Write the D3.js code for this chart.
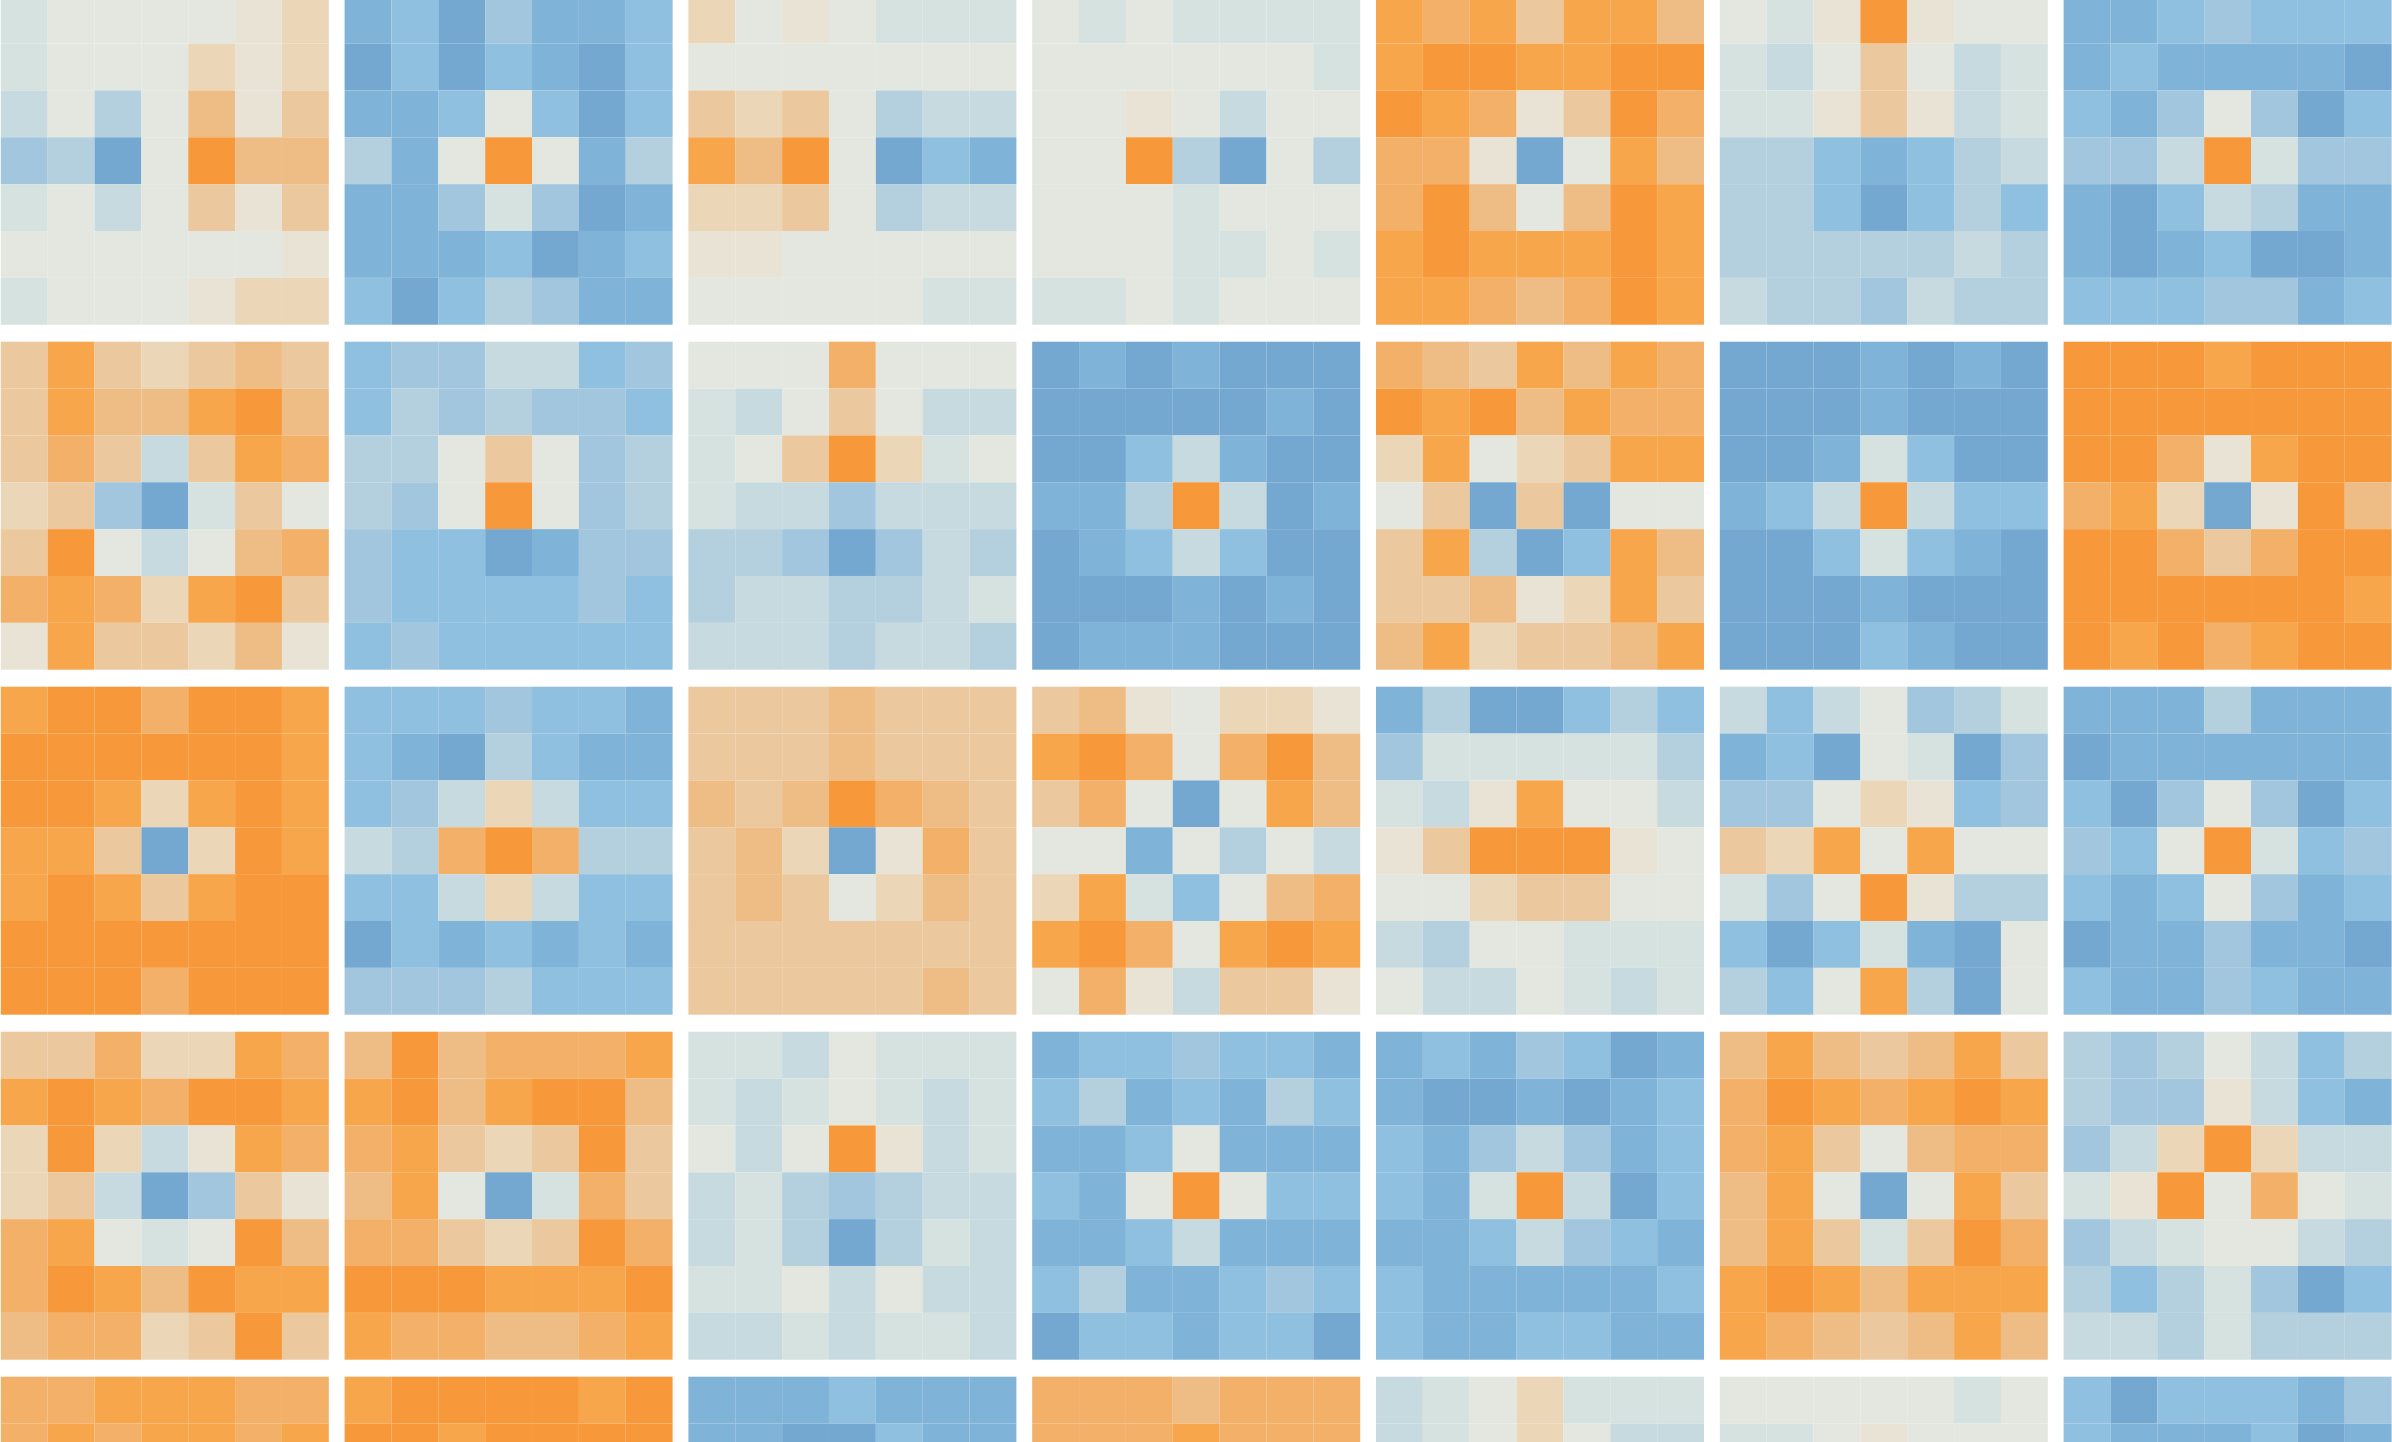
<!DOCTYPE html>
<html>
<head>
<meta charset="utf-8">
<script src="https://cdn.jsdelivr.net/npm/d3@7"></script>
<style>
  html, body { margin: 0; padding: 0; background: #fff; overflow: hidden; }
</style>
</head>
<body>
<div class="kernels-container"></div>
<script>
'use strict';

// one letter per cell: a = strongest blue, h = neutral, o = strongest orange
var levels = 'abcdefghijklmno';

var panelRow1 = [
  ['ghhhhij', 'ghhhjij', 'fhehlik', 'deaholl', 'ghfhkik', 'hhhhhhi', 'ghhhijj'],
  ['bcadbbc', 'acacbac', 'bbchcac', 'ebhohbe', 'bbdgdab', 'bbbcabc', 'cacedbb'],
  ['jhihggg', 'hhhhhhh', 'kjkheff', 'nlohacb', 'jjkheff', 'iihhhhh', 'hhhhhgg'],
  ['hghgggg', 'hhhhhhg', 'hhihfhh', 'hhoeahe', 'hhhghhh', 'hhhgghg', 'gghghhh'],
  ['nmnknnl', 'noonnoo', 'onmikom', 'mmiahnl', 'molhlon', 'nonnnon', 'nnmlmon'],
  ['hgioihh', 'gfhkhfg', 'ggikifg', 'eecbcef', 'eecacec', 'eeeeefe', 'feedfee'],
  ['bbcdccc', 'bcbbbba', 'cbdhdac', 'ddfogdd', 'bacfebb', 'babcaab', 'cccddbc']
];

var panelRow2 = [
  ['knkjklk', 'knllnol', 'kmkfknm', 'jkdagkh', 'kohfhlm', 'mnmjnok', 'inkkjli'],
  ['cddffcd', 'cededdc', 'eehkhde', 'edhohde', 'dccabdd', 'dccccdc', 'cdccccc'],
  ['hhhmhhh', 'gfhkhff', 'ghkojgh', 'gffdfff', 'eedadfe', 'effeefg', 'fffeffe'],
  ['ababaaa', 'aaaaaba', 'aacfbaa', 'bbeofab', 'abcfcaa', 'aaababa', 'abbbaaa'],
  ['mlknlnm', 'onolnmm', 'jnhjknn', 'hkakahh', 'kneacnl', 'kklijnk', 'lnjkkln'],
  ['aaababa', 'aaabaaa', 'aabgcaa', 'bcfofcc', 'aacgcba', 'aaabaaa', 'aaacbaa'],
  ['ooonooo', 'ooooooo', 'oominoo', 'mnjaiol', 'oomkmoo', 'oooooon', 'onomnoo']
];

var panelRow3 = [
  ['noomoon', 'oooooon', 'oonjnon', 'nnkajon', 'nonknoo', 'ooooooo', 'ooomooo'],
  ['cccdccb', 'cbaecbb', 'cdfjfcc', 'femomee', 'ccfjfcc', 'acbcbcb', 'dddeccc'],
  ['kkklkkk', 'kkklkkk', 'lklomlk', 'kljaimk', 'klkhjlk', 'kkkkkkk', 'kkkkklk'],
  ['klihjji', 'nomhmol', 'kmhahnl', 'hhbhehf', 'jngchlm', 'nomhnon', 'hmifkki'],
  ['beaacec', 'dggggge', 'gfinhhf', 'ikoooih', 'hhjkkhh', 'fehhggg', 'hffhgfg'],
  ['fcfhdeg', 'bcahgad', 'ddhjicd', 'kjnhnhh', 'gdhoiee', 'cacgbah', 'echneah'],
  ['bbbebbb', 'abbbbbb', 'cadhdac', 'dchogcd', 'cbchdbc', 'abbdbba', 'cbbdcbb']
];

var panelRow4 = [
  ['kkmjjnm', 'nonmoon', 'jojfinm', 'jkfadki', 'mnhghol', 'monlonn', 'lmmjkok'],
  ['lolmmmn', 'nolnool', 'mnkjkok', 'lnhagmk', 'mmkjkom', 'ooonnno', 'nmmllmn'],
  ['ggfhggg', 'gfghgfg', 'hfhoifg', 'fgedeff', 'fgeaegf', 'gghfhff', 'ffgfggf'],
  ['bccdccb', 'cebcbec', 'bbchbbb', 'cbhohcc', 'bbcfbbb', 'cebbcdc', 'accbcca'],
  ['bcbdcab', 'baababc', 'cbdfdbc', 'cbgofac', 'bbcfdcb', 'cbbbbbc', 'cbbccbb'],
  ['lnlklnk', 'monmnon', 'mnkhlmm', 'lnhahnk', 'lnkgkom', 'nonlnnn', 'nmlklnl'],
  ['edehfce', 'eddifcb', 'dfjojff', 'giohmhg', 'dfghhfe', 'ecegdac', 'ffegeee']
];

// only the top two rows of cells of this row are in view
var panelRow5 = [
  ['mmnnnmm', 'mnmnnmn'],
  ['noooono', 'oonoooo'],
  ['bbbcbbb', 'bbaacbb'],
  ['mmmlmmm', 'mmmnmmm'],
  ['fghjggg', 'fghjhff'],
  ['hhhhhgh', 'gghihhh'],
  ['cacccbd', 'cbbbcab']
];

var panelRows = [panelRow1, panelRow2, panelRow3, panelRow4, panelRow5];

var palette = [
  '#74a8d1', '#80b3d8', '#90c0df', '#a2c6dd', '#b4cfdd', '#c7dae0', '#d5e2e0',
  '#e3e7df',
  '#e9e3d6', '#ebd6b8', '#ebc89d', '#eebd86', '#f2b068', '#f8a64b', '#f7993b'
];

var width = 2392,
  height = 1442,
  panelSize = 328,
  gridSize = 7;

var color = d3.scaleLinear()
  .domain(d3.range(-7, 8))
  .range(palette);

var panelX = d3.scaleLinear().domain([0, 1]).range([0.8, 344.6]);
var panelY = d3.scaleLinear().domain([0, 1]).range([-3.3, 341.7]);

var cellX = d3.scaleBand().domain(d3.range(gridSize)).range([0, panelSize]);
var cellY = d3.scaleBand().domain(d3.range(gridSize)).range([0, panelSize]);

function toValue(ch) {
  return levels.indexOf(ch) - 7;
}

function flattenPanels(rows) {
  var panels = [];
  rows.forEach(function(row, r) {
    row.forEach(function(lines, c) {
      var cells = [];
      lines.forEach(function(line, i) {
        line.split('').forEach(function(ch, j) {
          cells.push({row: i, col: j, value: toValue(ch)});
        });
      });
      panels.push({row: r, col: c, cells: cells});
    });
  });
  return panels;
}

var svg = d3.select('.kernels-container').append('svg')
  .attr('width', width)
  .attr('height', height)
  .style('display', 'block');

var panel = svg.selectAll('g.panel')
  .data(flattenPanels(panelRows))
  .enter()
  .append('g')
  .attr('class', 'panel')
  .attr('transform', function(d) {
    return 'translate(' + panelX(d.col) + ',' + panelY(d.row) + ')';
  });

// no stroke: the fractional cell edges leave the faint seams seen in the original
panel.selectAll('rect')
  .data(function(d) { return d.cells; })
  .enter()
  .append('rect')
  .attr('x', function(d) { return cellX(d.col); })
  .attr('y', function(d) { return cellY(d.row); })
  .attr('width', cellX.bandwidth())
  .attr('height', cellY.bandwidth())
  .attr('fill', function(d) { return color(d.value); });
</script>
</body>
</html>
